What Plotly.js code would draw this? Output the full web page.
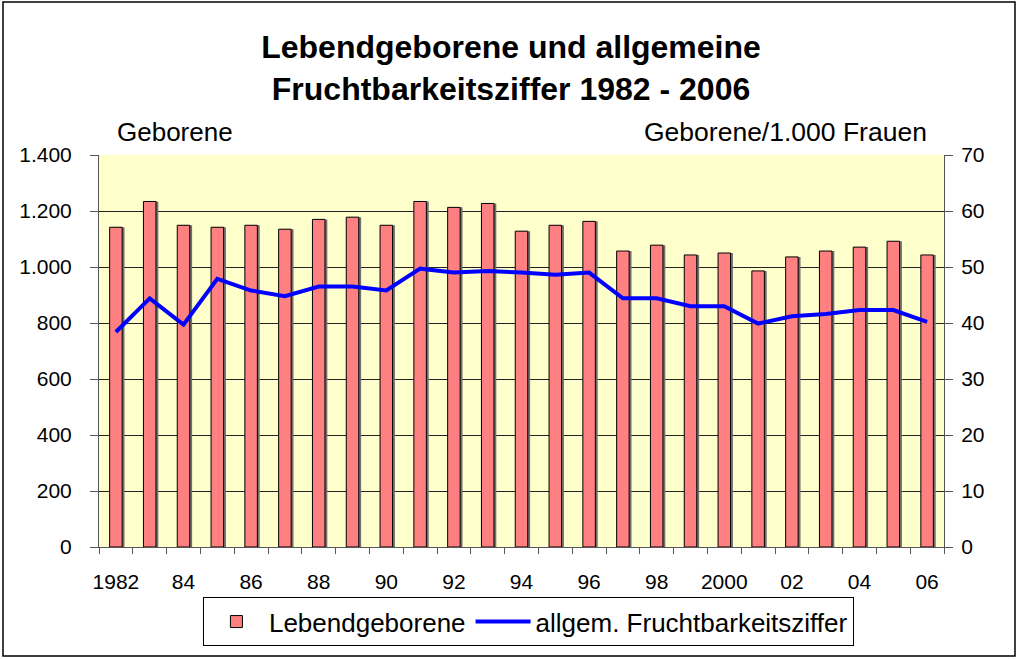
<!DOCTYPE html>
<html>
<head>
<meta charset="utf-8">
<script src="https://cdn.plot.ly/plotly-3.0.1.min.js"></script>
<style>html,body{margin:0;padding:0;background:#fff;}#chart{width:1018px;height:659px;}</style>
</head>
<body>
<div id="chart"></div>
<script>
const years = [1982,1983,1984,1985,1986,1987,1988,1989,1990,1991,1992,1993,1994,1995,1996,1997,1998,1999,2000,2001,2002,2003,2004,2005,2006];
const lebendgeborene = [1142,1234,1149,1142,1149,1135,1170,1178,1149,1234,1213,1227,1128,1149,1163,1057,1078,1043,1050,986,1036,1057,1071,1092,1043];
const fruchtbarkeit = [38.4,44.4,39.7,47.9,45.8,44.8,46.5,46.5,45.8,49.7,49.0,49.3,49.0,48.6,49.0,44.4,44.4,43.0,43.0,39.9,41.2,41.6,42.3,42.3,40.2];
const xTickVals = [1982,1984,1986,1988,1990,1992,1994,1996,1998,2000,2002,2004,2006];
const xTickText = ['1982','84','86','88','90','92','94','96','98','2000','02','04','06'];
const yLeftVals = [0,200,400,600,800,1000,1200,1400];
const yLeftText = ['0','200','400','600','800','1.000','1.200','1.400'];
const yRightVals = [0,10,20,30,40,50,60,70];
const yRightText = ['0','10','20','30','40','50','60','70'];

const FONT = 'Liberation Sans, Arial, sans-serif';
const barW = 0.37;

const traces = [
  {
    type: 'bar', x: years, y: lebendgeborene, yaxis: 'y',
    width: barW, offset: -barW/2 + 0.07,
    marker: {color: '#707070', line: {width: 0}},
    showlegend: false, hoverinfo: 'skip'
  },
  {
    type: 'bar', name: 'Lebendgeborene', x: years, y: lebendgeborene, yaxis: 'y',
    width: barW, offset: -barW/2,
    marker: {color: '#FF8080', line: {color: '#000000', width: 1}}
  },
  {
    type: 'scatter', mode: 'lines', name: 'allgem. Fruchtbarkeitsziffer',
    x: years, y: fruchtbarkeit, yaxis: 'y2',
    line: {color: '#0000FF', width: 4}
  }
];

const layout = {
  width: 1018, height: 659,
  margin: {l: 99, r: 74, t: 155, b: 112, pad: 0},
  paper_bgcolor: '#FFFFFF',
  plot_bgcolor: '#FFFFCC',
  barmode: 'overlay',
  font: {family: FONT, color: '#000000'},
  title: {
    text: '<b>Lebendgeborene und allgemeine<br>Fruchtbarkeitsziffer 1982 - 2006</b>',
    font: {family: FONT, size: 32, color: '#000000'},
    x: 0.502, xanchor: 'center',
    y: 1 - 58/659, yanchor: 'top', yref: 'container'
  },
  xaxis: {
    range: [1981.5, 2006.5],
    tickmode: 'array', tickvals: xTickVals, ticktext: xTickText,
    ticks: '', ticklabelstandoff: 16,
    tickfont: {family: FONT, size: 21},
    showgrid: false, zeroline: false,
    showline: true, linecolor: '#555555', linewidth: 1,
    minor: {tick0: 1981.5, dtick: 1, ticks: 'outside', ticklen: 6, tickcolor: '#555555', tickwidth: 1, showgrid: false}
  },
  yaxis: {
    range: [0, 1400],
    tickmode: 'array', tickvals: yLeftVals, ticktext: yLeftText,
    ticks: 'outside', ticklen: 8, tickcolor: '#555555',
    ticklabelstandoff: 14,
    tickfont: {family: FONT, size: 21},
    showgrid: true, gridcolor: '#222222', gridwidth: 1,
    zeroline: false, showline: true, linecolor: '#555555', linewidth: 1
  },
  yaxis2: {
    range: [0, 70], overlaying: 'y', side: 'right',
    tickmode: 'array', tickvals: yRightVals, ticktext: yRightText,
    ticks: 'outside', ticklen: 8, tickcolor: '#555555',
    ticklabelstandoff: 4,
    tickfont: {family: FONT, size: 21},
    showgrid: false, zeroline: false, showline: true, linecolor: '#555555', linewidth: 1
  },
  legend: {
    orientation: 'h', x: 0.123, xanchor: 'left', y: -0.128, yanchor: 'top',
    bordercolor: '#000000', borderwidth: 1, bgcolor: '#FFFFFF',
    font: {family: FONT, size: 26}, traceorder: 'normal', itemwidth: 55
  },
  annotations: [
    {text: 'Geborene', xref: 'paper', yref: 'paper', x: (115-99)/845, y: (547-132)/392,
     xanchor: 'left', yanchor: 'middle', showarrow: false, font: {family: FONT, size: 26}},
    {text: 'Geborene/1.000 Frauen', xref: 'paper', yref: 'paper', x: (929-99)/845, y: (547-132)/392,
     xanchor: 'right', yanchor: 'middle', showarrow: false, font: {family: FONT, size: 26.5}}
  ],
  shapes: [
    {type: 'rect', xref: 'paper', yref: 'paper', layer: 'above',
     x0: (3-99)/845, x1: (1015-99)/845, y0: (547-656)/392, y1: (547-2)/392,
     line: {color: '#000000', width: 1.5}, fillcolor: 'rgba(0,0,0,0)'}
  ]
};

Plotly.newPlot('chart', traces, layout, {staticPlot: true, displayModeBar: false});
</script>
</body>
</html>
